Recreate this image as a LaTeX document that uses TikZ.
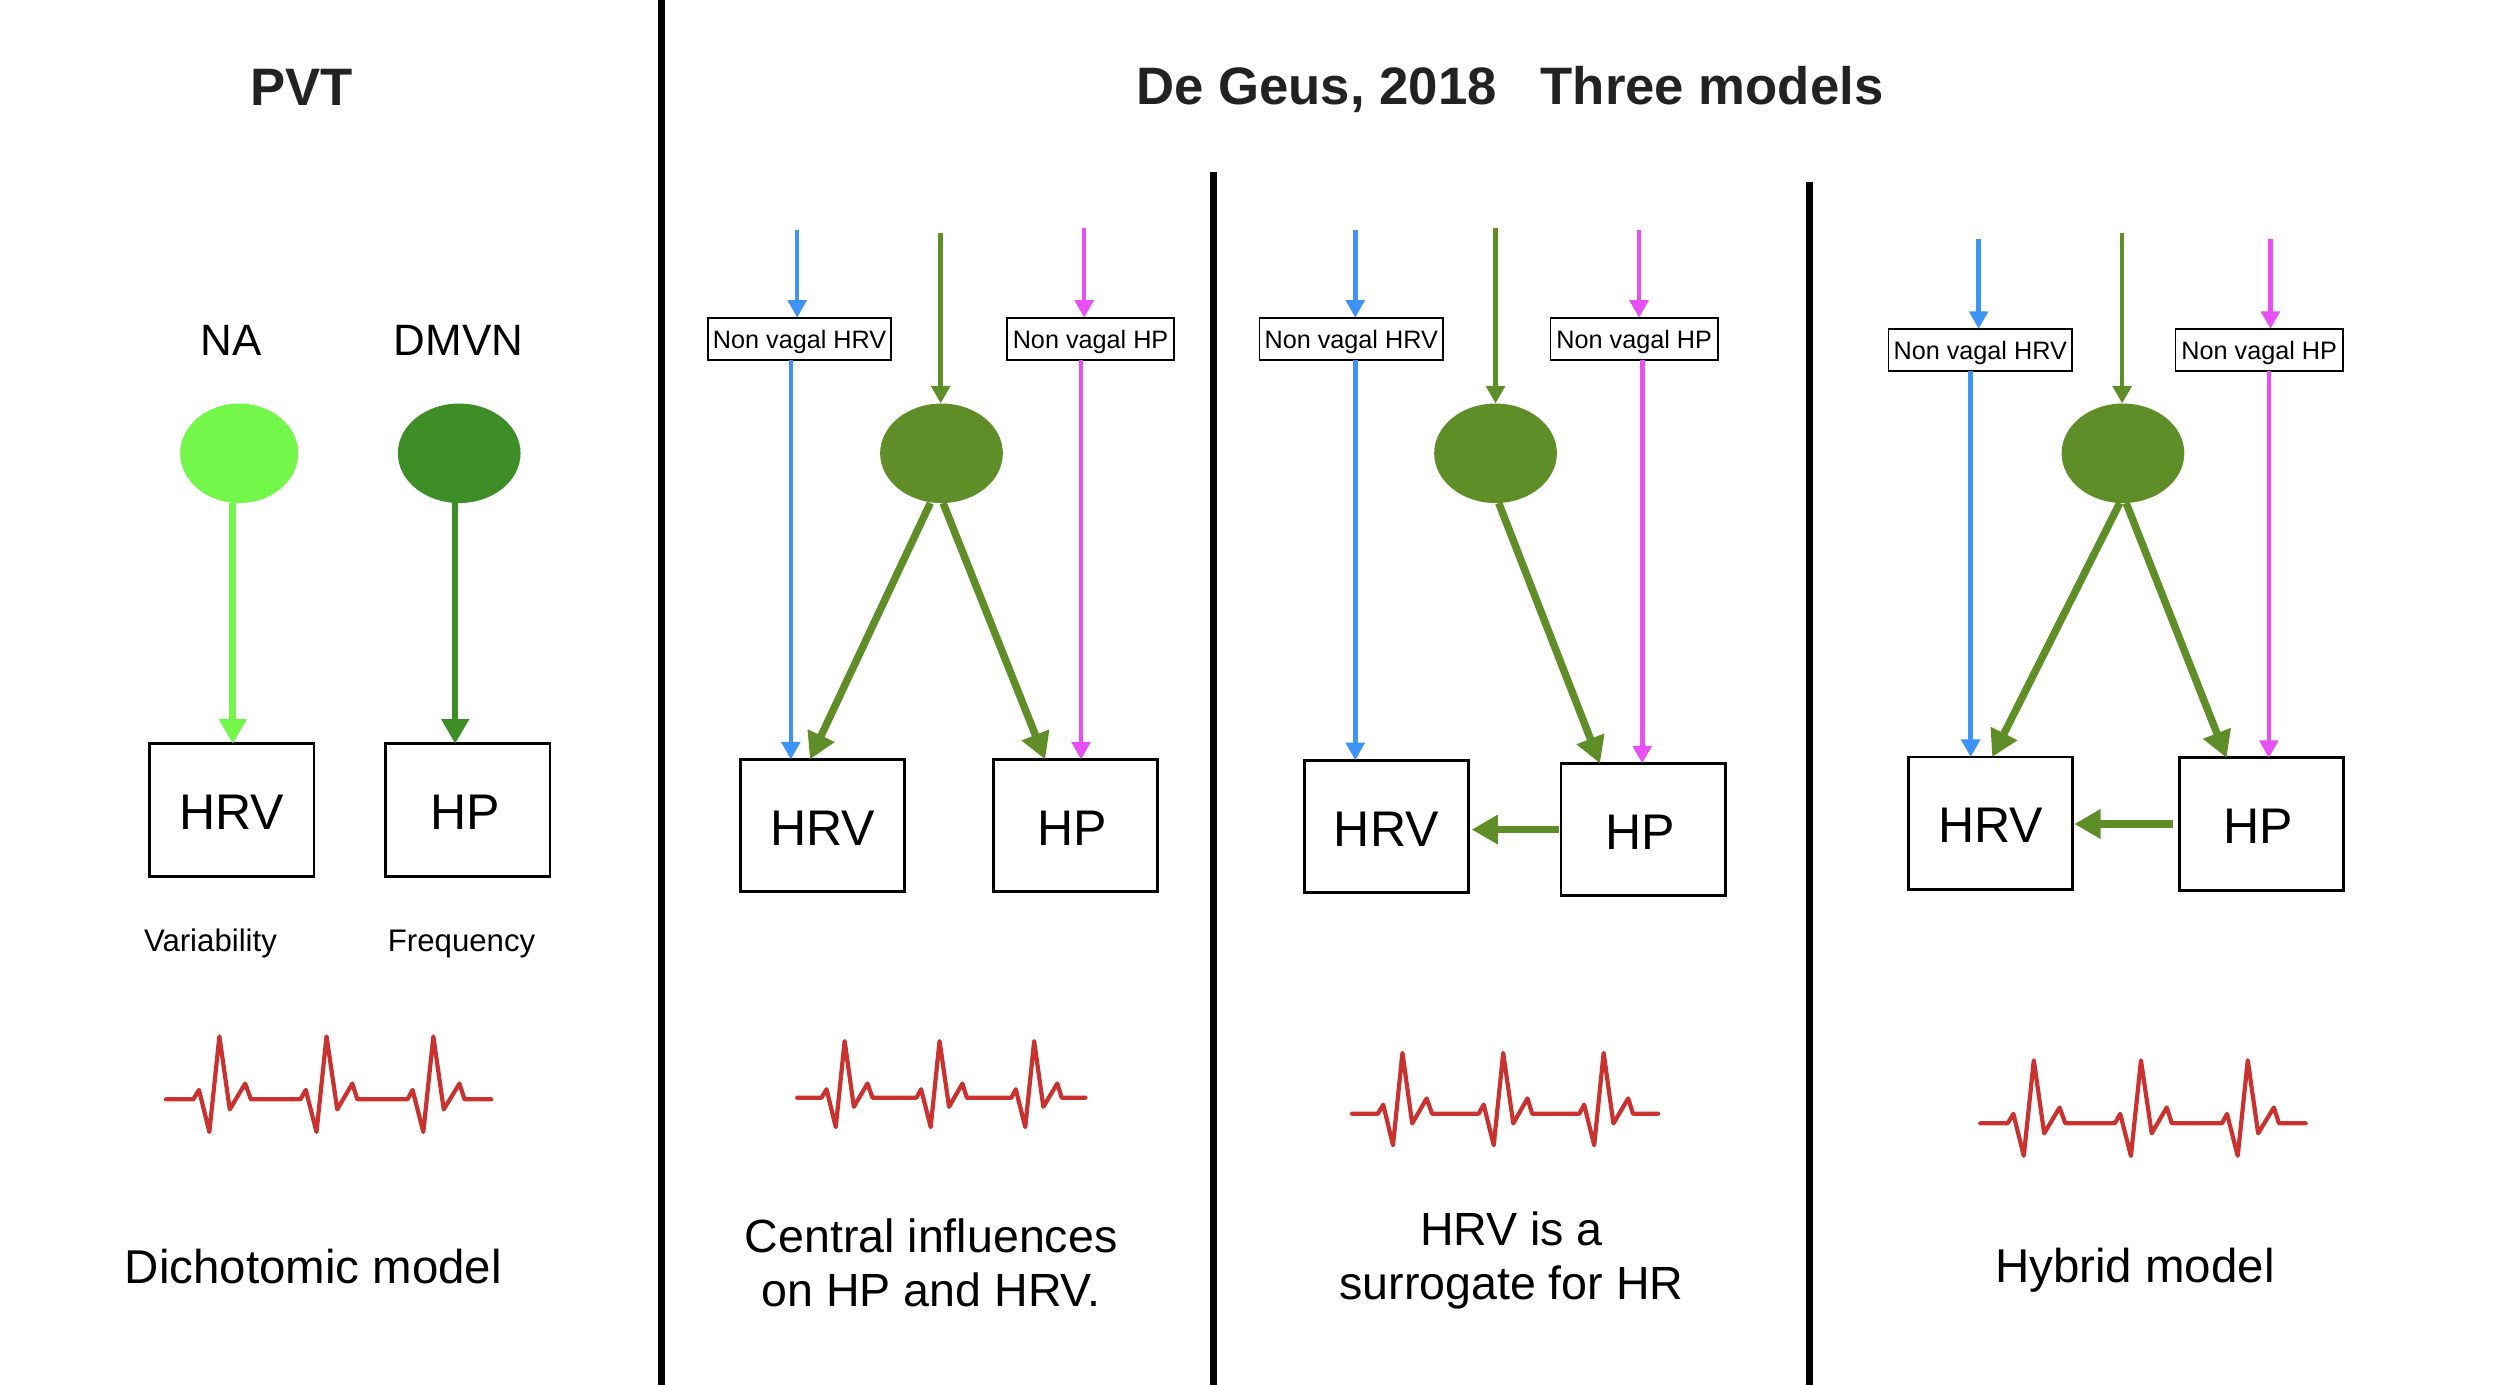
\documentclass[tikz,border=0pt]{standalone}
\usepackage{fontspec}
\setmainfont{Liberation Sans}
\usetikzlibrary{arrows.meta,shapes.geometric,calc}
\definecolor{cblue}{HTML}{3D94F6}
\definecolor{cgreen}{HTML}{5F8D27}
\definecolor{cmag}{HTML}{E84FF5}
\definecolor{cred}{HTML}{C9322E}
\definecolor{cna}{HTML}{72F74A}
\definecolor{cdm}{HTML}{3E8E28}
\definecolor{ctitle}{HTML}{222222}
\newcommand{\hpl}{HP\kern7pt}
\tikzset{
  hbox/.style={draw=black,line width=3.2pt,minimum width=6.569cm,minimum height=5.293cm,inner sep=0pt,outer sep=0pt,text height=45pt,text depth=0pt,font=\fontsize{57}{60}\selectfont},
  nvbox/.style={draw=black,line width=2pt,minimum height=1.69cm,inner sep=0pt,outer sep=0pt,text height=27pt,font=\fontsize{28.7}{30}\selectfont},
  nvlong/.style={nvbox,minimum width=7.334cm},
  nvshort/.style={nvbox,minimum width=6.696cm},
  blob/.style={ellipse,fill=#1,draw=none,minimum width=4.91cm,minimum height=3.98cm,inner sep=0pt,outer sep=0pt},
  thinarrow/.style={draw=#1,line width=5.2pt,-{Triangle[length=20pt,width=21pt,fill=#1]}},
  fatarrow/.style={draw=#1,line width=8.5pt,-{Triangle[length=30pt,width=32pt,fill=#1]}},
  pvtarrow/.style={draw=#1,line width=7.5pt,-{Triangle[length=28pt,width=30pt,fill=#1]}},
  panelsep/.style={draw=black,line width=7.5pt},
  ttl/.style={font=\fontsize{60}{62}\selectfont\bfseries,text=ctitle,inner sep=0pt},
  bigtxt/.style={font=\fontsize{50}{54}\selectfont,inner sep=0pt},
  smalltxt/.style={font=\fontsize{35.5}{38}\selectfont,inner sep=0pt},
  captxt/.style={font=\fontsize{53}{62}\selectfont,align=center,inner sep=0pt},
  ecgline/.style={draw=cred,line width=4.8pt,line join=round,line cap=round}
}
\newcommand{\ecgtrace}[4]{%
  \draw[ecgline,shift={(#1,#2)},xscale=#3,yscale=-#4]
   (0,0) -- (82,0) -- (99,28) -- (130,-97) -- (160,187) -- (191,-30) -- (237,47) -- (254,0)
   -- (402,0) -- (418,28) -- (450,-97) -- (480,187) -- (512,-30) -- (557,47) -- (572,0)
   -- (722,0) -- (737,28) -- (769,-97) -- (799,187) -- (830,-30) -- (877,47) -- (892,0) -- (972,0);}
\begin{document}
\begin{tikzpicture}[x=0.0637755cm,y=-0.0637755cm]
\useasboundingbox (0,0) rectangle (1568,868.67);
% separators
\coordinate (s1t) at (415,0); \coordinate (s1b) at (415,869);
\coordinate (s2t) at (761,108); \coordinate (s2b) at (761,869);
\coordinate (s3t) at (1135,114); \coordinate (s3b) at (1135,869);
\draw[panelsep] (s1t) -- (s1b);
\draw[panelsep] (s2t) -- (s2b);
\draw[panelsep] (s3t) -- (s3b);
% titles
\node[ttl] (t1) at (189,54.5) {PVT};
\node[ttl] (t2) at (947,56) {De Geus, 2018\ \ \ Three models};
% panel 1
\node[bigtxt] (na) at (145,213.5) {NA};
\node[bigtxt] (dmvn) at (287.5,213.5) {DMVN};
\node[blob=cna,minimum width=4.72cm] (e1a) at (150,284.3) {};
\node[blob=cdm] (e1b) at (288,284.3) {};
\node[hbox] (hrv1) at (145.5,508) {HRV};
\node[hbox] (hp1) at (293.5,508) {\hpl};
\coordinate (a1) at (146,315); \coordinate (a2) at (285.5,315);
\draw[pvtarrow=cna] (a1 |- e1a.south) -- (a1 |- hrv1.north);
\draw[pvtarrow=cdm] (a2 |- e1b.south) -- (a2 |- hp1.north);
\node[smalltxt] (var) at (132,592) {Variability};
\node[smalltxt] (freq) at (289.5,592) {Frequency};
\ecgtrace{104}{689.5}{0.21}{0.211}
\node[captxt,font=\fontsize{54}{62}\selectfont] (c1) at (196.5,794.5) {Dichotomic model};
% panel 2
\node[nvlong] (nvA2) at (501.5,212.5) {Non vagal HRV};
\node[nvshort] (nvB2) at (684,212.5) {Non vagal HP};
\node[blob=cgreen] (e2) at (590.5,284.3) {};
\node[hbox] (hrv2) at (516,517.8) {HRV};
\node[hbox] (hp2) at (674.5,517.8) {\hpl};
\coordinate (bt2) at (500,144); \coordinate (gt2) at (590,146); \coordinate (mt2) at (680,143);
\coordinate (bl2) at (496,0); \coordinate (ml2) at (678,0);
\draw[thinarrow=cblue] (bt2) -- (bt2 |- nvA2.north);
\draw[thinarrow=cgreen] (gt2) -- (gt2 |- e2.north);
\draw[thinarrow=cmag] (mt2) -- (mt2 |- nvB2.north);
\draw[thinarrow=cblue] (bl2 |- nvA2.south) -- (bl2 |- hrv2.north);
\draw[thinarrow=cmag] (ml2 |- nvB2.south) -- (ml2 |- hp2.north);
\draw[fatarrow=cgreen] ($(e2.south)+(-7,0)$) -- ($(hrv2.north)+(-8,0)$);
\draw[fatarrow=cgreen] ($(e2.south)+(1,0)$) -- ($(hp2.north)+(-19,0)$);
\ecgtrace{500}{688.5}{0.186}{0.19}
\node[captxt] (c2) at (584,792) {Central influences\\on HP and HRV.};
% panel 3
\node[nvlong] (nvA3) at (847.5,212.5) {Non vagal HRV};
\node[nvshort] (nvB3) at (1025,212.5) {Non vagal HP};
\node[blob=cgreen] (e3) at (938,284.3) {};
\node[hbox] (hrv3) at (869.5,518.3) {HRV};
\node[hbox] (hp3) at (1030.5,520.3) {\hpl};
\coordinate (bt3) at (850,144); \coordinate (gt3) at (938,143); \coordinate (mt3) at (1028,144);
\coordinate (bl3) at (850,0); \coordinate (ml3) at (1030,0);
\draw[thinarrow=cblue] (bt3) -- (bt3 |- nvA3.north);
\draw[thinarrow=cgreen] (gt3) -- (gt3 |- e3.north);
\draw[thinarrow=cmag] (mt3) -- (mt3 |- nvB3.north);
\draw[thinarrow=cblue] (bl3 |- nvA3.south) -- (bl3 |- hrv3.north);
\draw[thinarrow=cmag] (ml3 |- nvB3.south) -- (ml3 |- hp3.north);
\draw[fatarrow=cgreen] ($(e3.south)+(2,0)$) -- ($(hp3.north)+(-27,0)$);
\draw[fatarrow=cgreen] ($(hp3.west)+(-1,0)$) -- ($(hrv3.east)+(2,2)$);
\ecgtrace{848}{698.5}{0.1975}{0.204}
\node[captxt] (c3) at (948,790.5) {HRV is a\\surrogate for HR};
% panel 4
\node[nvlong] (nvA4) at (1242,219.5) {Non vagal HRV};
\node[nvshort] (nvB4) at (1417,219.5) {Non vagal HP};
\node[blob=cgreen] (e4) at (1331.5,284.3) {};
\node[hbox] (hrv4) at (1248.5,516.3) {HRV};
\node[hbox] (hp4) at (1418.5,516.8) {\hpl};
\coordinate (bt4) at (1241,150); \coordinate (gt4) at (1331,146); \coordinate (mt4) at (1424,150);
\coordinate (bl4) at (1236,0); \coordinate (ml4) at (1423,0);
\draw[thinarrow=cblue] (bt4) -- (bt4 |- nvA4.north);
\draw[thinarrow=cgreen] (gt4) -- (gt4 |- e4.north);
\draw[thinarrow=cmag] (mt4) -- (mt4 |- nvB4.north);
\draw[thinarrow=cblue] (bl4 |- nvA4.south) -- (bl4 |- hrv4.north);
\draw[thinarrow=cmag] (ml4 |- nvB4.south) -- (ml4 |- hp4.north);
\draw[fatarrow=cgreen] ($(e4.south)+(-2,0)$) -- ($(hrv4.north)+(1,0)$);
\draw[fatarrow=cgreen] ($(e4.south)+(2,0)$) -- ($(hp4.north)+(-22,0)$);
\draw[fatarrow=cgreen] ($(hp4.west)+(-4,0)$) -- ($(hrv4.east)+(1,0.5)$);
\ecgtrace{1242}{704.5}{0.21}{0.211}
\node[captxt,font=\fontsize{54}{62}\selectfont] (c4) at (1339,796.5) {Hybrid model};
\end{tikzpicture}
\end{document}
